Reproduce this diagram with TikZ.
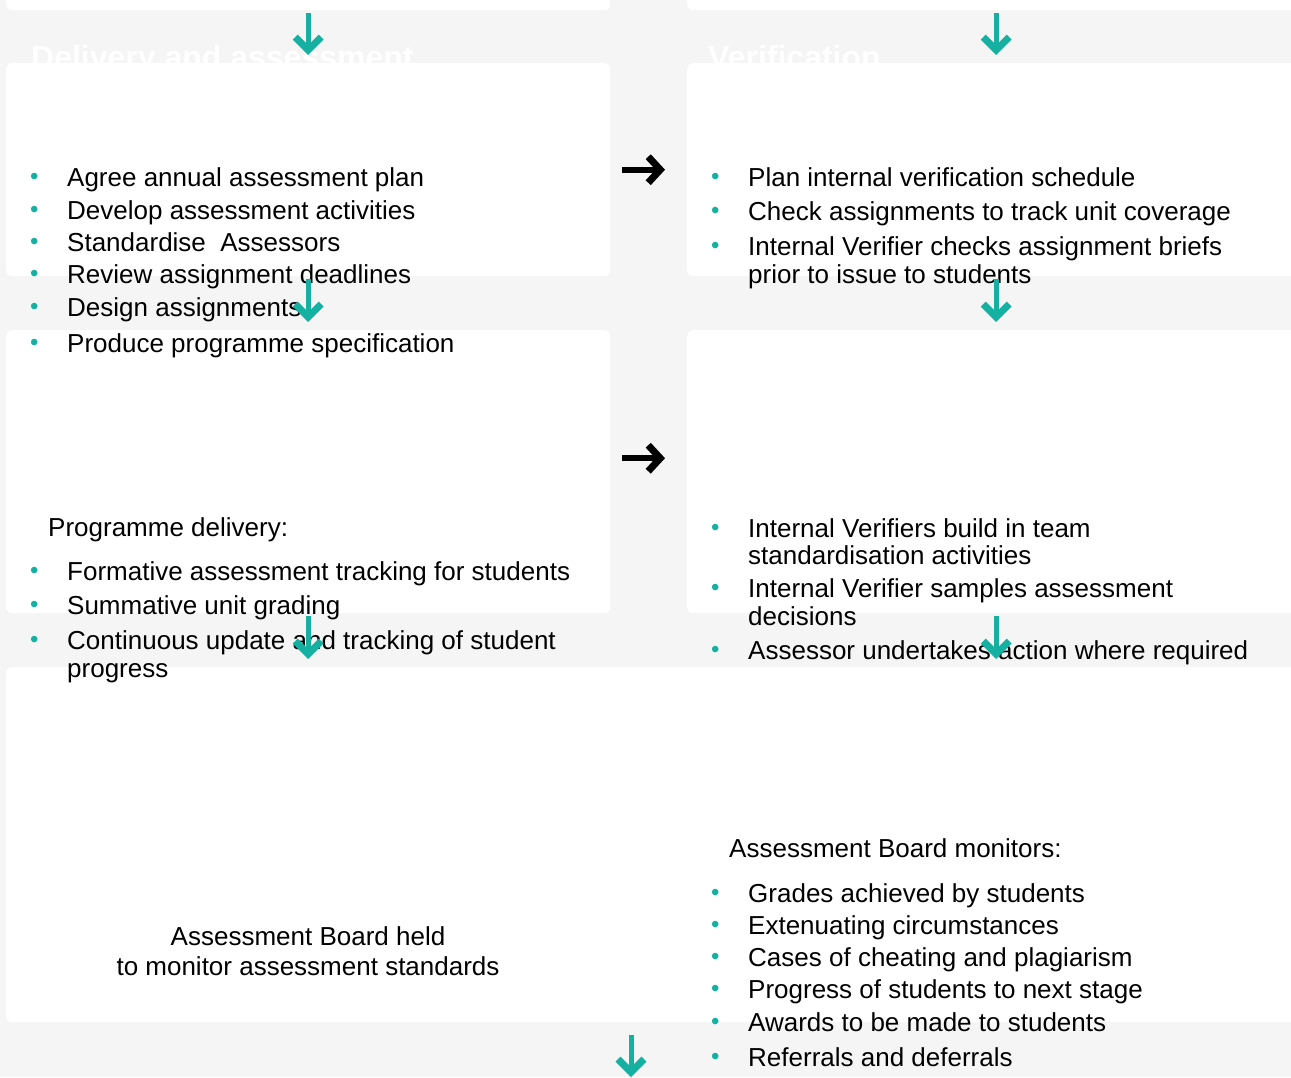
\documentclass[tikz,border=0pt]{standalone}
\usepackage{fontspec}
\setmainfont{Liberation Sans}
\usepackage{xcolor}
\usepackage{tikz}
\usetikzlibrary{arrows.meta}
\definecolor{page}{HTML}{F5F5F5}
\definecolor{accent}{HTML}{15B0A1}
\definecolor{ink}{HTML}{000000}
\newcommand{\bul}{\makebox[37pt][l]{\raisebox{1.5pt}{\textcolor{accent}{\fontsize{24}{24}\selectfont\textbullet}}}}
\newcommand{\cont}{\hspace*{37pt}}
\tikzset{
  card/.style={fill=white, rounded corners=6pt, inner sep=0pt, anchor=north west},
  head/.style={text=white, font=\bfseries\fontsize{32}{32}\selectfont, anchor=base west, inner sep=0pt},
  list/.style={text=ink, font=\fontsize{26}{28}\selectfont, align=left, anchor=base west, inner sep=0pt},
  flow/.style={draw=accent, line width=5pt, shorten <=3pt, shorten >=8pt,
    -{Straight Barb[length=13pt, width=26pt, line width=7pt]}},
  push/.style={draw=black, line width=6pt, shorten <=12pt, shorten >=22pt,
    -{Straight Barb[length=12pt, width=26pt, line width=7pt]}},
}

\begin{document}
\begin{tikzpicture}[x=1pt, y=-1pt]
  \useasboundingbox (0,0) rectangle (1291,1077);
  \clip (0,0) rectangle (1291,1077);
  \fill[page] (0,0) rectangle (1291,1077);

  % column titles, mostly hidden under the cards
  \node[head] (hdL) at (31,68) {Delivery and assessment};
  \node[head] (hdR) at (708,68) {Verification};

  \node[card, minimum width=604pt, minimum height=40pt] (prevL) at (6,-30) {};
  \node[card, minimum width=618pt, minimum height=40pt] (prevR) at (687,-30) {};
  \node[card, minimum width=604pt, minimum height=213pt] (planbox) at (6,63) {};
  \node[card, minimum width=618pt, minimum height=213pt] (ivplan) at (687,63) {};
  \node[card, minimum width=604pt, minimum height=283pt] (deliverbox) at (6,330) {};
  \node[card, minimum width=618pt, minimum height=283pt] (ivsample) at (687,330) {};
  \node[card, minimum width=1299pt, minimum height=355pt] (boardbox) at (6,667) {};

  % lists are placed by the baseline of their last line
  \node[list] (planlist) at (30,352) {\bul Agree annual assessment plan\\[5pt]
    \bul Develop assessment activities\\[4pt]
    \bul Standardise\ \ Assessors\\[4pt]
    \bul Review assignment deadlines\\[5pt]
    \bul Design assignments\\[8pt]
    \bul Produce programme specification};
  \node[list] (ivlist) at (711,283) {\bul Plan internal verification schedule\\[6pt]
    \bul Check assignments to track unit coverage\\[7pt]
    \bul Internal Verifier checks assignment briefs\\
    \cont prior to issue to students};

  \node[list] (deliverhead) at (48,536) {Programme delivery:};
  \node[list] (deliverlist) at (30,677) {\bul Formative assessment tracking for students\\[6pt]
    \bul Summative unit grading\\[7pt]
    \bul Continuous update and tracking of student\\
    \cont progress};
  \node[list] (samplelist) at (711,659) {\bul Internal Verifiers build in team\\[-1pt]
    \cont standardisation activities\\[5pt]
    \bul Internal Verifier samples assessment\\
    \cont decisions\\[6pt]
    \bul Assessor undertakes action where required};

  \node[list, align=center, anchor=base] (boardnote) at (308,975) {Assessment Board held\\[2pt]
    to monitor assessment standards};
  \node[list] (monitorhead) at (729,857) {Assessment Board monitors:};
  \node[list] (monitorlist) at (711,1066) {\bul Grades achieved by students\\[4pt]
    \bul Extenuating circumstances\\[4pt]
    \bul Cases of cheating and plagiarism\\[4pt]
    \bul Progress of students to next stage\\[5pt]
    \bul Awards to be made to students\\[7pt]
    \bul Referrals and deferrals};

  % flow down each column
  \draw[flow] (prevL.south) -- (planbox.north);
  \draw[flow] (prevR.south) -- (ivplan.north);
  \draw[flow] (planbox.south) -- (deliverbox.north);
  \draw[flow] (ivplan.south) -- (ivsample.north);
  \draw[flow] (deliverbox.south) -- (deliverbox.south |- boardbox.north);
  \draw[flow] (ivsample.south) -- (ivsample.south |- boardbox.north);
  \coordinate (out) at (631,1085);
  \draw[flow, shorten <=13pt] (boardbox.south -| out) -- (out);

  % across to verification
  \draw[push] (planbox.east) -- (ivplan.west);
  \draw[push] ([yshift=13.5pt]deliverbox.east) -- ([yshift=13.5pt]deliverbox.east -| ivsample.west);
\end{tikzpicture}
\end{document}
